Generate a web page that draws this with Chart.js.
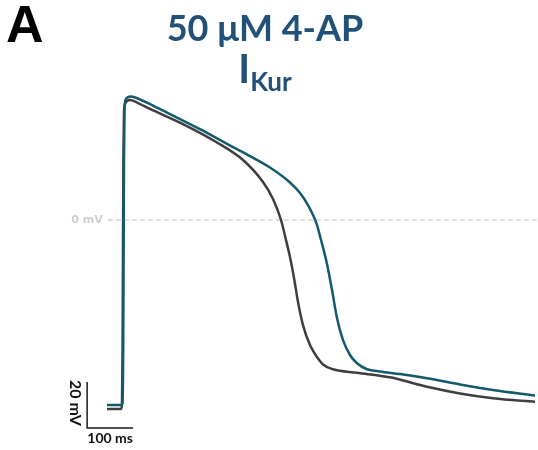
<!DOCTYPE html>
<html>
<head>
<meta charset="utf-8">
<script src="https://cdn.jsdelivr.net/npm/chart.js@4.4.1/dist/chart.umd.min.js"></script>
<style>
  body { margin: 0; background: #fff; }
  #wrap { position: relative; width: 538px; height: 450px; }
  #panel { position: absolute; left: 6px; top: -6px; font: bold 52px "Liberation Sans", Arial, sans-serif; color: #000; }
  #title { position: absolute; left: 0; width: 530px; top: 7px; text-align: center; font: bold 36px Lato, "Open Sans", sans-serif; color: #215079; line-height: 41px; }
  #title sub { font-size: 26px; vertical-align: -8px; line-height: 0; }
  .l2 { font-size: 40px; }
</style>
</head>
<body>
<div id="wrap">
  <canvas id="apChart" width="538" height="450"></canvas>
  <div id="panel">A</div>
  <div id="title">50 μM 4-AP<br><span class="l2">I<sub>Kur</sub></span></div>
</div>
<script>
// time (ms) and membrane potential (mV)
const timeDrug = [-34.8, -3.3, -1.1, 0.4, 1.3, 2.2, 3.3, 5.4, 10.9, 17.4, 37.0, 58.7, 95.7, 167.4, 239.1, 276.1, 319.6, 363.0, 384.8, 402.2, 413.0, 421.8, 430.5, 443.5, 454.4, 465.2, 478.3, 493.5, 508.7, 530.5, 558.7, 602.2, 660.9, 732.6, 804.4, 895.7];
const vmDrug = [-80.4, -80.4, -79.6, -56.5, -13.0, 26.1, 47.8, 52.2, 53.4, 53.7, 52.4, 50.4, 46.7, 39.5, 31.7, 27.8, 22.8, 16.3, 11.7, 6.5, 2.2, -2.2, -8.7, -19.1, -30.4, -42.6, -52.2, -58.7, -62.3, -64.9, -65.9, -67.0, -68.8, -71.5, -73.9, -76.3];

const timeCtrl = [-34.8, -4.3, -2.2, -0.9, 0, 0.9, 2.0, 4.3, 8.7, 15.2, 37.0, 58.7, 130.4, 204.4, 260.9, 304.4, 326.1, 343.5, 354.4, 363.0, 371.8, 380.5, 391.3, 406.5, 421.8, 434.8, 456.5, 508.7, 580.5, 660.9, 732.6, 804.4, 895.7];
const vmCtrl = [-82.2, -82.2, -80.0, -56.5, -13.0, 26.1, 45.7, 50.4, 51.7, 52.2, 50.4, 48.3, 41.7, 33.7, 26.1, 16.5, 9.1, 0, -8.7, -16.1, -25.2, -35.7, -45.7, -54.4, -59.6, -62.8, -64.9, -66.4, -68.4, -72.5, -75.4, -77.5, -79.0];

// scale bar: origin (ms, mV) and lengths
const scaleBarOrigin = [-78, -90.4];
const scaleBarMs = 100;
const scaleBarMv = 20;

const toPoints = (ts, vs) => ts.map((t, i) => ({ x: t, y: vs[i] }));

const annotations = {
  id: 'annotations',
  beforeDatasetsDraw(chart) {
    const { ctx, scales: { x, y } } = chart;
    const y0 = y.getPixelForValue(0);
    ctx.save();
    ctx.strokeStyle = '#d4d4d4';
    ctx.lineWidth = 1.3;
    ctx.setLineDash([5, 3]);
    ctx.beginPath();
    ctx.moveTo(x.getPixelForValue(-33), y0);
    ctx.lineTo(x.getPixelForValue(900), y0);
    ctx.stroke();
    ctx.setLineDash([]);
    ctx.fillStyle = '#cfcfcf';
    ctx.font = 'bold 11px "DejaVu Sans", sans-serif';
    ctx.textAlign = 'right';
    ctx.textBaseline = 'middle';
    ctx.fillText('0 mV', x.getPixelForValue(-44), y0);
    ctx.restore();
  },
  afterDatasetsDraw(chart) {
    const { ctx, scales: { x, y } } = chart;
    const x0 = x.getPixelForValue(scaleBarOrigin[0]);
    const x1 = x.getPixelForValue(scaleBarOrigin[0] + scaleBarMs);
    const yb = y.getPixelForValue(scaleBarOrigin[1]);
    const yt = y.getPixelForValue(scaleBarOrigin[1] + scaleBarMv);
    ctx.save();
    ctx.strokeStyle = '#1a1a1a';
    ctx.lineWidth = 1.5;
    ctx.beginPath();
    ctx.moveTo(x0, yt);
    ctx.lineTo(x0, yb);
    ctx.lineTo(x1, yb);
    ctx.stroke();
    ctx.fillStyle = '#111';
    ctx.font = 'bold 14px Lato, sans-serif';
    ctx.textAlign = 'center';
    ctx.textBaseline = 'top';
    ctx.fillText(scaleBarMs + ' ms', (x0 + x1) / 2, yb + 4);
    ctx.font = 'bold 16px Lato, sans-serif';
    ctx.translate(x0 - 12, (yt + yb) / 2 - 2);
    ctx.rotate(Math.PI / 2);
    ctx.textBaseline = 'middle';
    ctx.fillText(scaleBarMv + ' mV', 0, 0);
    ctx.restore();
  }
};

new Chart(document.getElementById('apChart').getContext('2d'), {
  type: 'line',
  data: {
    datasets: [
      {
        label: '50 μM 4-AP',
        data: toPoints(timeDrug, vmDrug),
        borderColor: '#135a6c',
        borderWidth: 2.5,
        pointRadius: 0,
        cubicInterpolationMode: 'monotone'
      },
      {
        label: 'Control',
        data: toPoints(timeCtrl, vmCtrl),
        borderColor: '#3e3e41',
        borderWidth: 2.5,
        pointRadius: 0,
        cubicInterpolationMode: 'monotone'
      }
    ]
  },
  options: {
    responsive: false,
    animation: false,
    layout: { padding: 0 },
    scales: {
      x: { type: 'linear', min: -267.4, max: 902.2, display: false },
      y: { min: -100.0, max: 95.65, display: false }
    },
    plugins: { legend: { display: false }, tooltip: { enabled: false } }
  },
  plugins: [annotations]
});
</script>
</body>
</html>
